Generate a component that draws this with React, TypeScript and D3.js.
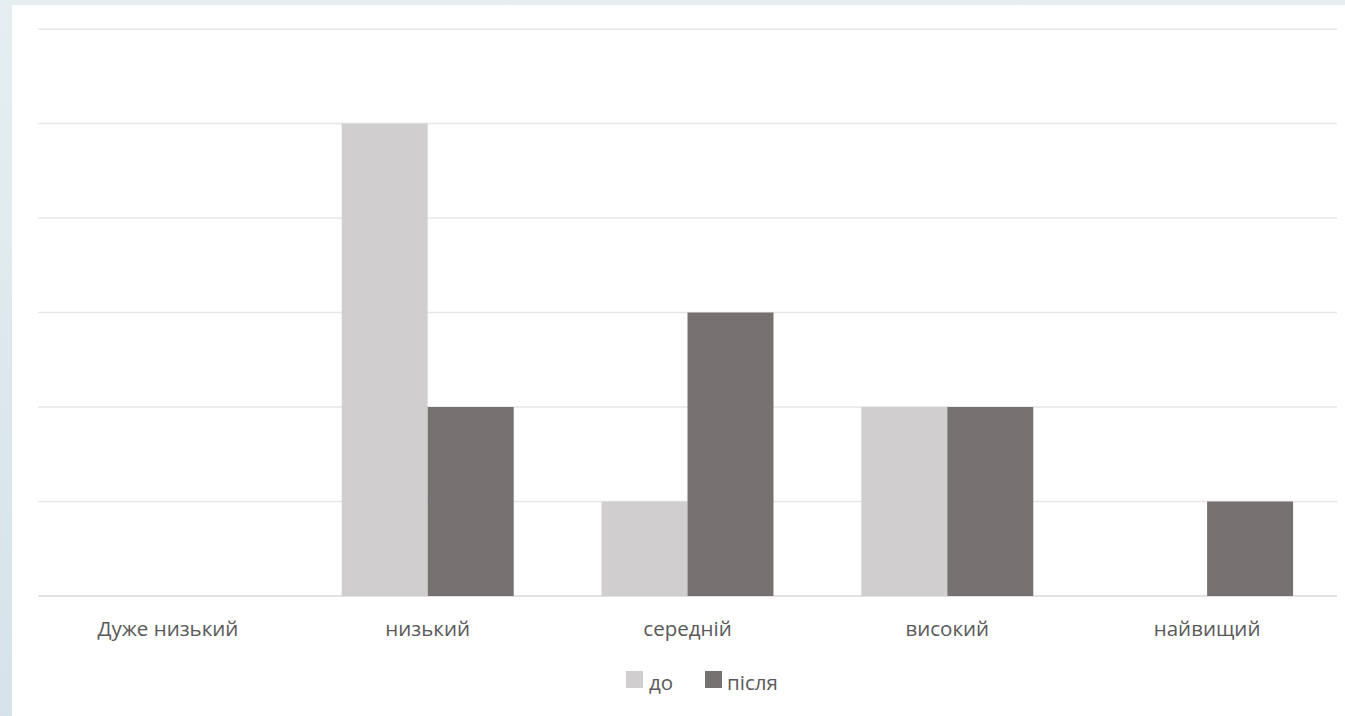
import React from "react";
import * as d3 from "d3";

const categories = ["Дуже низький", "низький", "середній", "високий", "найвищий"];
const seriesNames = ["до", "після"];
const before = [0, 5, 1, 2, 0];
const after = [0, 2, 3, 2, 1];
const yTicks = [0, 1, 2, 3, 4, 5, 6];
const colors = ["#d0cece", "#767171"];

export default function App() {
  const W = 1345, H = 716;
  const left = 38, right = 1337, top = 29, bottom = 596;
  const x = d3.scaleBand<string>().domain(categories).range([left, right]).padding(0);
  const bw = x.bandwidth();
  const barW = bw * 0.331;
  const y = d3.scaleLinear().domain([0, 6]).range([bottom, top]);
  const series = [before, after];
  return (
    <svg width={W} height={H} style={{ position: "absolute", left: 0, top: 0, display: "block" }}
      fontFamily="'Open Sans', 'Noto Sans', sans-serif">
      <defs>
        <linearGradient id="lg" x1="0" x2="0" y1="0" y2="1">
          <stop offset="0" stopColor="#e6eef2" />
          <stop offset="1" stopColor="#d4e3ea" />
        </linearGradient>
      </defs>
      <rect x={0} y={0} width={W} height={H} fill="url(#lg)" />
      <rect x={12} y={5} width={W - 12} height={H - 5} fill="#ffffff" />
      {yTicks.map((t) => (
        <line key={t} x1={left} x2={right} y1={y(t)} y2={y(t)} stroke={t === 0 ? "#d9d9d9" : "#e6e6e6"} strokeWidth={1.3} />
      ))}
      {categories.map((c, i) =>
        series.map((s, k) => {
          const cx = x(c)! + bw / 2;
          const bx = k === 0 ? cx - barW : cx;
          return s[i] > 0 ? (
            <rect key={c + k} x={bx} y={y(s[i])} width={barW} height={bottom - y(s[i])} fill={colors[k]} />
          ) : null;
        })
      )}
      {categories.map((c) => (
        <text key={c} x={x(c)! + bw / 2} y={636} textAnchor="middle" fontSize={20.5} fill="#595959">{c}</text>
      ))}
      <g>
        <rect x={626} y={671} width={17} height={17} fill={colors[0]} />
        <text x={649} y={690} fontSize={20.5} fill="#595959">{seriesNames[0]}</text>
        <rect x={705} y={671} width={17} height={17} fill={colors[1]} />
        <text x={727} y={690} fontSize={20.5} fill="#595959">{seriesNames[1]}</text>
      </g>
    </svg>
  );
}
